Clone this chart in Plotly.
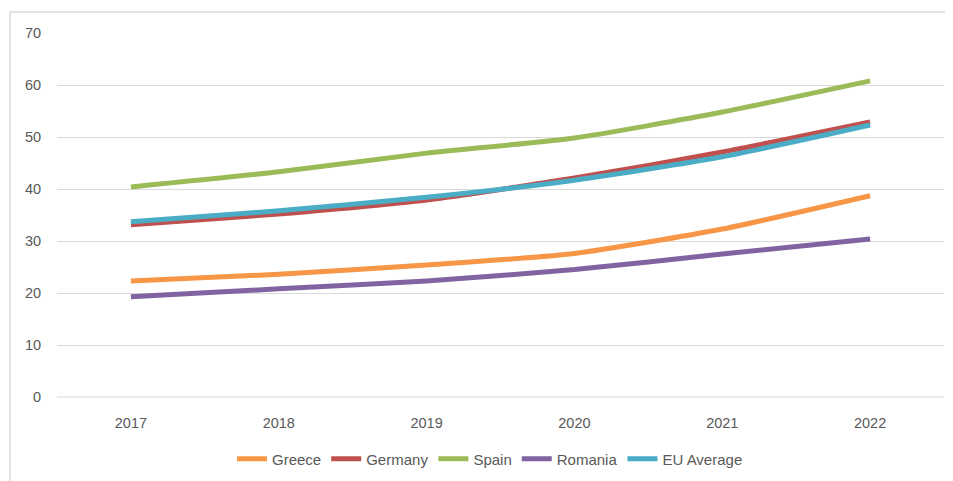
import plotly.graph_objects as go

years = ["2017", "2018", "2019", "2020", "2021", "2022"]
greece = [22.3, 23.6, 25.4, 27.6, 32.3, 38.7]
germany = [33.1, 35.2, 37.9, 42.1, 47.1, 52.9]
spain = [40.4, 43.3, 46.9, 49.8, 54.8, 60.8]
romania = [19.3, 20.8, 22.3, 24.5, 27.5, 30.4]
eu_average = [33.7, 35.8, 38.4, 41.7, 46.2, 52.3]

series = [
    ("Greece", greece, "#F79646"),
    ("Germany", germany, "#C0504D"),
    ("Spain", spain, "#9BBB59"),
    ("Romania", romania, "#8064A2"),
    ("EU Average", eu_average, "#4BACC6"),
]

fig = go.Figure()
for name, vals, color in series:
    fig.add_trace(go.Scatter(
        x=years, y=vals, name=name, mode="lines",
        line=dict(color=color, width=5, shape="spline", smoothing=0.6),
    ))

font_family = "Liberation Sans, Arial, sans-serif"
L, T, R, B = 49, 25, 17, 92
PW, PH = 953 - L - R, 481 - T - B
fig.update_layout(
    width=953, height=481,
    margin=dict(l=L, r=R, t=T, b=B),
    paper_bgcolor="white", plot_bgcolor="white",
    font=dict(family=font_family, size=14, color="#595959"),
    showlegend=True,
    legend=dict(orientation="h", x=(482 - L) / PW, xanchor="center",
                y=-(451 - (T + PH)) / PH, yanchor="middle",
                font=dict(size=15, color="#595959"), itemwidth=30, tracegroupgap=0),
    xaxis=dict(type="category", range=[-0.5, 5.5], showgrid=False, showline=False,
               ticks="outside", ticklen=13, tickcolor="rgba(0,0,0,0)",
               tickfont=dict(size=14.5, color="#595959"), zeroline=False),
    yaxis=dict(range=[0, 70], dtick=10, showgrid=True, gridcolor="#D9D9D9", gridwidth=1,
               zeroline=False, showline=False, ticks="outside", ticklen=12, tickcolor="rgba(0,0,0,0)",
               tickfont=dict(size=14.5, color="#595959")),
)
fig.add_shape(type="line", xref="paper", yref="paper", x0=0, x1=1, y0=0, y1=0,
              line=dict(color="#D9D9D9", width=1), layer="below")
fig.add_shape(type="rect", xref="paper", yref="paper",
              x0=(2 - L) / PW, x1=1.2, y0=-0.5, y1=(T + PH - 4) / PH,
              line=dict(color="#D9D9D9", width=1.5), fillcolor="rgba(0,0,0,0)", layer="below")
fig.write_html("out.html")
